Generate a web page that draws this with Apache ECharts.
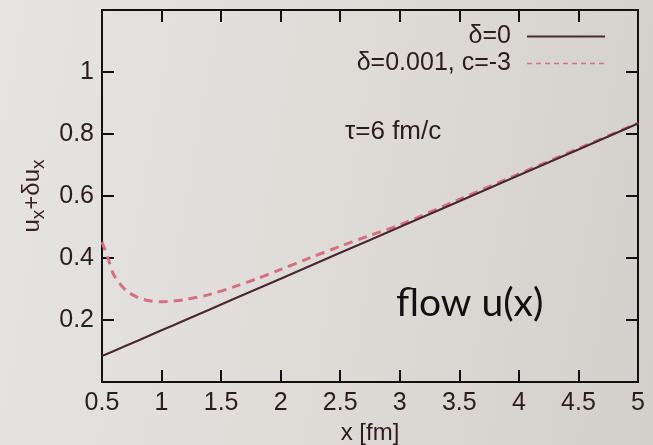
<!DOCTYPE html>
<html>
<head>
<meta charset="utf-8">
<script src="https://cdn.jsdelivr.net/npm/echarts@6/dist/echarts.min.js"></script>
<style>
  html, body { margin: 0; padding: 0; }
  #chart {
    width: 653px; height: 445px;
    background: linear-gradient(100deg, #e6e4e1 0%, #dedbd7 55%, #d3d0cb 100%);
  }
</style>
</head>
<body>
<div id="chart"></div>
<script>
// Positions along the flow direction, x in fm
const xValues = [0.5, 0.55, 0.6, 0.7, 0.8, 0.9, 1.0, 1.1, 1.2, 1.4, 1.6, 1.8, 2.0, 2.25, 2.5, 2.75, 3.0, 3.5, 4.0, 4.5, 5.0];
// Unperturbed flow, delta = 0
const flowBase = [0.084, 0.092, 0.1, 0.117, 0.133, 0.15, 0.167, 0.183, 0.2, 0.233, 0.267, 0.3, 0.333, 0.375, 0.417, 0.458, 0.5, 0.583, 0.667, 0.75, 0.834];
// Perturbed flow, delta = 0.001, c = -3
const flowPerturbed = [0.452, 0.4, 0.345, 0.296, 0.273, 0.262, 0.259, 0.261, 0.266, 0.282, 0.306, 0.333, 0.363, 0.401, 0.438, 0.473, 0.507, 0.589, 0.671, 0.753, 0.835];
// Axis tick settings
const xTicks = { min: 0.5, max: 5, step: 0.5 };
const yTicks = { min: 0, max: 1.2, step: 0.2 };
const seriesNames = ['δ=0', 'δ=0.001, c=-3'];

const pair = (xs, ys) => xs.map((x, i) => [x, ys[i]]);

const textColor = '#2a1c20';
const font = 'Liberation Sans, Arial, sans-serif';
const solidColor = '#4a2830';
const dashColor = '#d6707f';

const chart = echarts.init(document.getElementById('chart'), null, { renderer: 'canvas' });

const baseX = {
  type: 'value', min: xTicks.min, max: xTicks.max, interval: xTicks.step,
  axisLine: { show: true, onZero: false, lineStyle: { color: '#111', width: 2 } },
  axisTick: { show: true, inside: true, length: 12, lineStyle: { color: '#111', width: 2 } },
  splitLine: { show: false }
};
const baseY = {
  type: 'value', min: yTicks.min, max: yTicks.max, interval: yTicks.step,
  axisLine: { show: true, onZero: false, lineStyle: { color: '#111', width: 2 } },
  axisTick: { show: true, inside: true, length: 12, lineStyle: { color: '#111', width: 2 } },
  splitLine: { show: false }
};

chart.setOption({
  backgroundColor: 'transparent',
  animation: false,
  grid: { left: 102, right: 15, top: 10, bottom: 63, containLabel: false, outerBoundsMode: 'none' },
  legend: {
    orient: 'vertical',
    align: 'right',
    right: 42,
    top: 19,
    itemWidth: 78,
    itemHeight: 14,
    itemGap: 2,
    itemStyle: { opacity: 0 },
    textStyle: { fontFamily: font, fontSize: 25, color: textColor, padding: [0, 11, 0, 0] },
    data: [
      { name: seriesNames[0], lineStyle: { color: solidColor, width: 2, type: 'solid' } },
      { name: seriesNames[1], lineStyle: { color: dashColor, width: 1.5, type: [5, 4] } }
    ]
  },
  xAxis: [
    Object.assign({}, baseX, {
      position: 'bottom',
      name: 'x [fm]', nameLocation: 'middle', nameGap: 33,
      nameTextStyle: { fontFamily: font, fontSize: 24, color: textColor },
      axisLabel: { fontFamily: font, fontSize: 25, color: textColor, margin: 9 }
    }),
    Object.assign({}, baseX, { position: 'top', axisLabel: { show: false } })
  ],
  yAxis: [
    Object.assign({}, baseY, {
      position: 'left',
      name: '{b|u}{s|x}{b|+δu}{s|x}', nameLocation: 'middle', nameGap: 52, nameRotate: 90,
      nameTextStyle: {
        fontFamily: font, color: '#3a1f26',
        rich: {
          b: { fontFamily: font, fontSize: 24, color: '#3a1f26' },
          s: { fontFamily: font, fontSize: 19, color: '#3a1f26', padding: [12, 0, 0, 0] }
        }
      },
      axisLabel: {
        fontFamily: font, fontSize: 25, color: textColor, margin: 8,
        formatter: v => (v <= yTicks.min || v >= yTicks.max - 1e-9) ? '' : String(+v.toFixed(1))
      }
    }),
    Object.assign({}, baseY, { position: 'right', axisLabel: { show: false } })
  ],
  series: [
    {
      name: seriesNames[0], type: 'line', xAxisIndex: 0, yAxisIndex: 0,
      data: pair(xValues, flowBase), symbol: 'none', smooth: false,
      lineStyle: { color: solidColor, width: 2 }, itemStyle: { color: solidColor }, z: 3
    },
    {
      name: seriesNames[1], type: 'line', xAxisIndex: 0, yAxisIndex: 0,
      data: pair(xValues, flowPerturbed), symbol: 'none', smooth: 0.3,
      lineStyle: { color: dashColor, width: 3, type: [9, 6] }, itemStyle: { color: dashColor }, z: 2
    }
  ],
  graphic: [
    {
      type: 'text', left: 345, top: 119,
      style: { text: 'τ=6 fm/c', font: '26px ' + font, fill: textColor }
    },
    {
      type: 'text', left: 396, top: 284,
      style: { text: 'flow u(x)', font: '39px Lato, "Noto Sans", sans-serif', fill: '#111' }
    }
  ]
});
</script>
</body>
</html>
